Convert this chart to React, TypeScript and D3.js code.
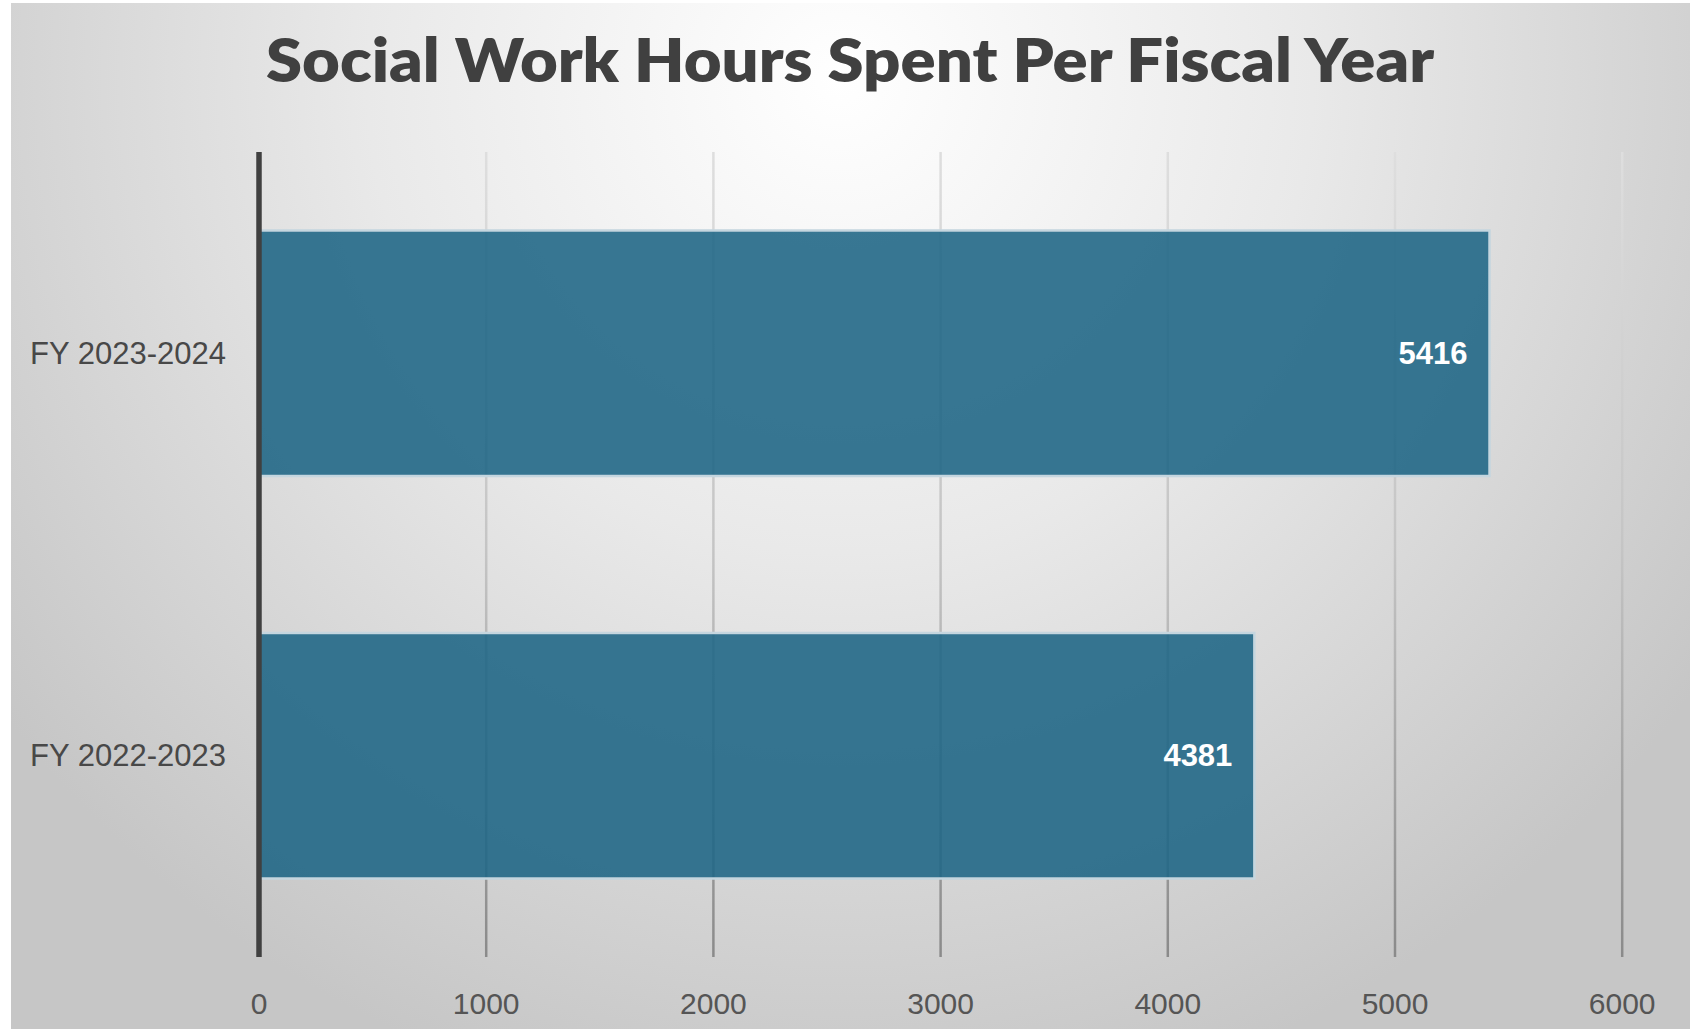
import React from "react";
import * as d3 from "d3";

const categories = ["FY 2022-2023", "FY 2023-2024"];
const hours = [4381, 5416];
const xTicks = [0, 1000, 2000, 3000, 4000, 5000, 6000];
const titleText = "Social Work Hours Spent Per Fiscal Year";

const W = 1691;
const H = 1031;

export default function App() {
  const x = d3.scaleLinear().domain([0, 6000]).range([259, 1622.2]);
  const y = d3
    .scaleBand<string>()
    .domain([...categories].reverse())
    .range([152, 957])
    .paddingInner(0.39)
    .paddingOuter(0.195);

  const data = categories.map((c, i) => ({ c, v: hours[i] }));

  return (
    <svg
      width={W}
      height={H}
      style={{ position: "absolute", left: 0, top: 0, display: "block" }}
      xmlns="http://www.w3.org/2000/svg"
    >
      <defs>
        <radialGradient id="bg" gradientUnits="userSpaceOnUse" cx={840} cy={80} r={1050}>
          <stop offset="0" stopColor="#ffffff" />
          <stop offset="0.45" stopColor="#e9e9e9" />
          <stop offset="1" stopColor="#c6c6c6" />
        </radialGradient>
        <linearGradient id="grid" gradientUnits="userSpaceOnUse" x1={0} y1={152} x2={0} y2={957}>
          <stop offset="0" stopColor="#dedede" />
          <stop offset="0.5" stopColor="#c4c4c4" />
          <stop offset="1" stopColor="#8a8a8a" />
        </linearGradient>
      </defs>
      <rect x={0} y={0} width={W} height={H} fill="#ffffff" />
      <rect x={11} y={3} width={W - 12} height={1026} fill="url(#bg)" />

      <text
        x={850}
        y={82}
        textAnchor="middle"
        fontFamily="Lato, 'Open Sans', sans-serif"
        fontWeight={800}
        fontSize={61}
        fill="#404040"
        textLength={1168}
        lengthAdjust="spacingAndGlyphs"
      >
        {titleText}
      </text>

      {xTicks
        .filter((t) => t > 0)
        .map((t) => (
          <line
            key={"g" + t}
            x1={x(t)}
            x2={x(t)}
            y1={152}
            y2={957}
            stroke="url(#grid)"
            strokeWidth={2.5}
          />
        ))}

      {data.map((d) => (
        <rect
          key={d.c}
          x={x(0)}
          y={y(d.c)!}
          width={x(d.v) - x(0)}
          height={y.bandwidth()}
          fill="#1f6686"
          fillOpacity={0.89}
          stroke="#c5d6df"
          strokeWidth={2.5}
        />
      ))}

      <line x1={x(0)} x2={x(0)} y1={152} y2={957} stroke="#404040" strokeWidth={5.5} />

      {data.map((d) => (
        <text
          key={"l" + d.c}
          x={x(d.v) - 22}
          y={y(d.c)! + y.bandwidth() / 2 + 10.5}
          textAnchor="end"
          fontFamily="'Liberation Sans', Arial, sans-serif"
          fontWeight={700}
          fontSize={31}
          fill="#ffffff"
        >
          {d.v}
        </text>
      ))}

      {data.map((d) => (
        <text
          key={"c" + d.c}
          x={226}
          y={y(d.c)! + y.bandwidth() / 2 + 10.5}
          textAnchor="end"
          fontFamily="'Liberation Sans', Arial, sans-serif"
          fontSize={31}
          fill="#484848"
        >
          {d.c}
        </text>
      ))}

      {xTicks.map((t) => (
        <text
          key={"t" + t}
          x={x(t)}
          y={1014}
          textAnchor="middle"
          fontFamily="'Liberation Sans', Arial, sans-serif"
          fontSize={30}
          fill="#555555"
        >
          {t}
        </text>
      ))}
    </svg>
  );
}
